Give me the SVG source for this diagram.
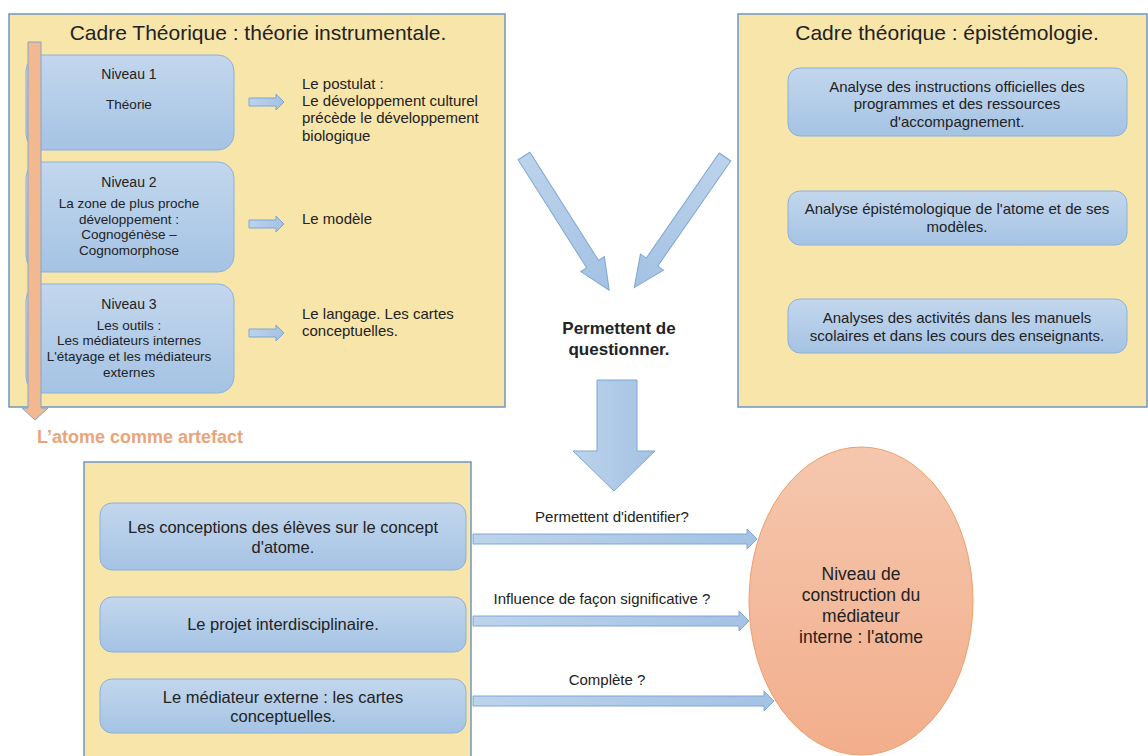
<svg xmlns="http://www.w3.org/2000/svg" width="1148" height="756" viewBox="0 0 1148 756">
<defs>
<linearGradient id="gBox" x1="0" y1="0" x2="0" y2="1"><stop offset="0" stop-color="#c3d7ed"/><stop offset="1" stop-color="#a5c3e4"/></linearGradient>
<linearGradient id="gArr" x1="0" y1="0" x2="1" y2="0"><stop offset="0" stop-color="#bcd3eb"/><stop offset="1" stop-color="#a4c2e4"/></linearGradient>
<linearGradient id="gEll" x1="0" y1="0" x2="0" y2="1"><stop offset="0" stop-color="#f5c7ae"/><stop offset="1" stop-color="#f2ae8c"/></linearGradient>
<style>
.frame{fill:#f8e5aa;stroke:#6f97c3;stroke-width:1.5}
.box{fill:url(#gBox);stroke:#8cb1da;stroke-width:1}
.arr{fill:url(#gArr);stroke:#7ea6d4;stroke-width:1}
text{font-family:"Liberation Sans",Arial,sans-serif;fill:#222}
.title{font-size:21px;text-anchor:middle}
.c{text-anchor:middle}
.niv{font-size:14px}
.s12{font-size:13.5px}
.s14{font-size:15px}
.s13{font-size:15px}
.lab{font-size:15px}
.s15{font-size:16.5px}
.s16{font-size:17.5px}
.b{font-weight:bold}
</style>
</defs>

<g id="frame-left">
<rect class="frame" x="9" y="14" width="496" height="393"/>
<text class="title" x="258" y="40">Cadre Théorique : théorie instrumentale.</text>
</g>

<g id="niveau1">
<rect class="box" x="26" y="55" width="208" height="95" rx="16"/>
<text class="c niv" x="129" y="79">Niveau 1</text>
<text class="c s12" x="129" y="109">Théorie</text>
</g>
<g id="niveau2">
<rect class="box" x="26" y="162" width="208" height="110" rx="16"/>
<text class="c niv" x="129" y="187">Niveau 2</text>
<text class="c s12" x="129" y="208">La zone de plus proche</text>
<text class="c s12" x="129" y="224">développement :</text>
<text class="c s12" x="129" y="239">Cognogénèse –</text>
<text class="c s12" x="129" y="255">Cognomorphose</text>
</g>
<g id="niveau3">
<rect class="box" x="26" y="284" width="208" height="109" rx="16"/>
<text class="c niv" x="129" y="309">Niveau 3</text>
<text class="c s12" x="129" y="330">Les outils :</text>
<text class="c s12" x="129" y="345">Les médiateurs internes</text>
<text class="c s12" x="129" y="361">L'étayage et les médiateurs</text>
<text class="c s12" x="129" y="377">externes</text>
</g>

<g id="text-postulat">
<text class="s14" x="302" y="89">Le postulat :</text>
<text class="s14" x="302" y="106">Le développement culturel</text>
<text class="s14" x="302" y="123">précède le développement</text>
<text class="s14" x="302" y="141">biologique</text>
</g>
<g id="text-modele"><text class="s14" x="302" y="224">Le modèle</text></g>
<g id="text-langage">
<text class="s14" x="302" y="319">Le langage. Les cartes</text>
<text class="s14" x="302" y="336">conceptuelles.</text>
</g>

<g id="frame-right">
<rect class="frame" x="738" y="14" width="409" height="393"/>
<text class="title" x="947" y="40">Cadre théorique : épistémologie.</text>
</g>
<g id="analyse1">
<rect class="box" x="788" y="68" width="339" height="68" rx="12"/>
<text class="c s13" x="957" y="92">Analyse des instructions officielles des</text>
<text class="c s13" x="957" y="109">programmes et des ressources</text>
<text class="c s13" x="957" y="127">d'accompagnement.</text>
</g>
<g id="analyse2">
<rect class="box" x="788" y="191" width="339" height="54" rx="12"/>
<text class="c s13" x="957" y="214">Analyse épistémologique de l'atome et de ses</text>
<text class="c s13" x="957" y="232">modèles.</text>
</g>
<g id="analyse3">
<rect class="box" x="788" y="299" width="339" height="54" rx="12"/>
<text class="c s13" x="957" y="323">Analyses des activités dans les manuels</text>
<text class="c s13" x="957" y="341">scolaires et dans les cours des enseignants.</text>
</g>

<g id="question">
<text class="c b" x="619" y="334" style="font-size:17px">Permettent de</text>
<text class="c b" x="619" y="355" style="font-size:17px">questionner.</text>
</g>

<g id="artefact-label">
<text class="b" x="37" y="443" style="fill:#eba47a;font-size:18px">L’atome comme artefact</text>
</g>

<g id="frame-bottom">
<rect class="frame" x="84" y="462" width="387" height="300"/>
</g>
<g id="conceptions">
<rect class="box" x="100" y="503" width="366" height="67" rx="12"/>
<text class="c s15" x="283" y="533">Les conceptions des élèves sur le concept</text>
<text class="c s15" x="283" y="553">d'atome.</text>
</g>
<g id="projet">
<rect class="box" x="100" y="597" width="366" height="55" rx="12"/>
<text class="c s15" x="283" y="630">Le projet interdisciplinaire.</text>
</g>
<g id="mediateur-externe">
<rect class="box" x="100" y="679" width="366" height="54" rx="12"/>
<text class="c s15" x="283" y="703">Le médiateur externe : les cartes</text>
<text class="c s15" x="283" y="722">conceptuelles.</text>
</g>

<g id="niveau-construction">
<ellipse cx="861" cy="601" rx="112" ry="154" fill="url(#gEll)" stroke="#ee9f66" stroke-width="1"/>
<text class="c s16" x="861" y="580">Niveau de</text>
<text class="c s16" x="861" y="601">construction du</text>
<text class="c s16" x="861" y="622">médiateur</text>
<text class="c s16" x="861" y="643">interne : l'atome</text>
</g>

<g id="connectors">
<polygon class="arr" points="249,98 276,98 276,94 284,102 276,110 276,106 249,106"/>
<polygon class="arr" points="249,220 276,220 276,216 284,224 276,232 276,228 249,228"/>
<polygon class="arr" points="249,329 276,329 276,325 284,333 276,341 276,337 249,337"/>
<polygon class="arr" transform="translate(524,156) rotate(57.6)" points="0,-7 128,-7 128,-14 159,0 128,14 128,7 0,7"/>
<polygon class="arr" transform="translate(725,157) rotate(124.8)" points="0,-7 128,-7 128,-14 159,0 128,14 128,7 0,7"/>
<polygon class="arr" points="597,380 637,380 637,451 655,451 614,491 573,451 597,451"/>
<polygon class="arr" points="473,534 747,534 747,529 757,539 747,549 747,544 473,544"/>
<polygon class="arr" points="473,616 739,616 739,611 749,621 739,631 739,626 473,626"/>
<polygon class="arr" points="473,696 764,696 764,691 774,701 764,711 764,706 473,706"/>
<polygon points="28,42 41,42 41,408 48,408 35,420 22,408 28,408" fill="#f2b88f" stroke="#7ea6d4" stroke-width="1"/>
<text class="c lab" x="612" y="522">Permettent d'identifier?</text>
<text class="c lab" x="602" y="604">Influence de façon significative ?</text>
<text class="c lab" x="607" y="685">Complète ?</text>
</g>
</svg>
